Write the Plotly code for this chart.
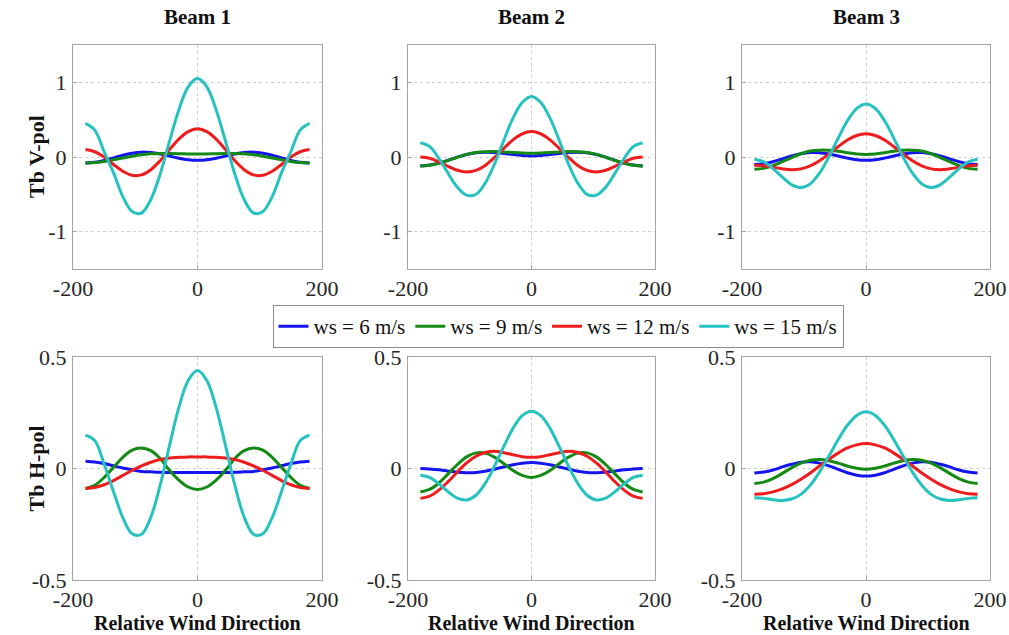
import plotly.graph_objects as go

wind_dir = [-180, -165, -150, -135, -120, -105, -90, -75, -60, -45, -30, -15, 0,
            15, 30, 45, 60, 75, 90, 105, 120, 135, 150, 165, 180]

series_names = ["ws = 6 m/s", "ws = 9 m/s", "ws = 12 m/s", "ws = 15 m/s"]
series_colors = ["#1414f0", "#138a13", "#ee1c1c", "#26c2c0"]
beam_titles = ["Beam 1", "Beam 2", "Beam 3"]
row_titles = ["Tb V-pol", "Tb H-pol"]
x_title = "Relative Wind Direction"

# ---- V-pol ----
b1v_ws6 = [-0.08, -0.071, -0.046, -0.012, 0.024, 0.051, 0.065, 0.06, 0.041, 0.012, -0.017, -0.038, -0.045, -0.038, -0.017, 0.012, 0.041, 0.06, 0.065, 0.051, 0.024, -0.012, -0.046, -0.071, -0.08]
b1v_ws9 = [-0.08, -0.075, -0.06, -0.037, -0.013, 0.011, 0.03, 0.042, 0.047, 0.047, 0.045, 0.041, 0.04, 0.041, 0.045, 0.047, 0.047, 0.042, 0.03, 0.011, -0.013, -0.037, -0.06, -0.075, -0.08]
b1v_ws12 = [0.10, 0.07, 0.00, -0.10, -0.19, -0.245, -0.24, -0.17, -0.05, 0.10, 0.24, 0.34, 0.38, 0.34, 0.24, 0.10, -0.05, -0.17, -0.24, -0.245, -0.19, -0.10, 0.00, 0.07, 0.10]
b1v_ws15 = [0.45, 0.36, 0.07, -0.21, -0.53, -0.73, -0.75, -0.57, -0.23, 0.21, 0.63, 0.94, 1.05, 0.94, 0.63, 0.21, -0.23, -0.57, -0.75, -0.73, -0.53, -0.21, 0.07, 0.36, 0.45]

b2v_ws6 = [-0.12, -0.108, -0.082, -0.044, -0.002, 0.034, 0.058, 0.064, 0.06, 0.048, 0.032, 0.02, 0.015, 0.02, 0.032, 0.048, 0.06, 0.064, 0.058, 0.034, -0.002, -0.044, -0.082, -0.108, -0.12]
b2v_ws9 = [-0.12, -0.11, -0.084, -0.045, -0.003, 0.035, 0.06, 0.07, 0.072, 0.068, 0.06, 0.053, 0.05, 0.053, 0.06, 0.068, 0.072, 0.07, 0.06, 0.035, -0.003, -0.045, -0.084, -0.11, -0.12]
b2v_ws12 = [0.0, -0.017, -0.065, -0.125, -0.178, -0.20, -0.18, -0.113, -0.008, 0.115, 0.23, 0.31, 0.34, 0.31, 0.23, 0.115, -0.008, -0.113, -0.18, -0.20, -0.178, -0.125, -0.065, -0.017, 0.0]
b2v_ws15 = [0.19, 0.14, -0.02, -0.22, -0.405, -0.51, -0.50, -0.35, -0.095, 0.22, 0.52, 0.73, 0.81, 0.73, 0.52, 0.22, -0.095, -0.35, -0.50, -0.51, -0.405, -0.22, -0.02, 0.14, 0.19]

b3v_ws6 = [-0.10, -0.09, -0.063, -0.025, 0.013, 0.044, 0.06, 0.058, 0.041, 0.013, -0.015, -0.037, -0.045, -0.037, -0.015, 0.013, 0.041, 0.058, 0.06, 0.044, 0.013, -0.025, -0.063, -0.09, -0.10]
b3v_ws9 = [-0.165, -0.152, -0.115, -0.063, -0.007, 0.044, 0.08, 0.092, 0.09, 0.078, 0.058, 0.041, 0.035, 0.041, 0.058, 0.078, 0.09, 0.092, 0.08, 0.044, -0.007, -0.063, -0.115, -0.152, -0.165]
b3v_ws12 = [-0.11, -0.118, -0.137, -0.158, -0.17, -0.159, -0.12, -0.051, 0.04, 0.138, 0.227, 0.288, 0.31, 0.288, 0.227, 0.138, 0.04, -0.051, -0.12, -0.159, -0.17, -0.158, -0.137, -0.118, -0.11]
b3v_ws15 = [-0.03, -0.064, -0.155, -0.27, -0.37, -0.41, -0.36, -0.217, 0.0, 0.25, 0.485, 0.65, 0.71, 0.65, 0.485, 0.25, 0.0, -0.217, -0.36, -0.41, -0.37, -0.27, -0.155, -0.064, -0.03]

# ---- H-pol ----
b1h_ws6 = [0.033, 0.029, 0.022, 0.012, 0.002, -0.006, -0.013, -0.015, -0.017, -0.018, -0.018, -0.018, -0.018, -0.018, -0.018, -0.018, -0.017, -0.015, -0.013, -0.006, 0.002, 0.012, 0.022, 0.029, 0.033]
b1h_ws9 = [-0.09, -0.075, -0.04, 0.005, 0.05, 0.082, 0.092, 0.08, 0.045, -0.008, -0.052, -0.083, -0.094, -0.083, -0.052, -0.008, 0.045, 0.08, 0.092, 0.082, 0.05, 0.005, -0.04, -0.075, -0.09]
b1h_ws12 = [-0.09, -0.085, -0.073, -0.054, -0.031, -0.008, 0.012, 0.028, 0.04, 0.047, 0.05, 0.052, 0.052, 0.052, 0.05, 0.047, 0.04, 0.028, 0.012, -0.008, -0.031, -0.054, -0.073, -0.085, -0.09]
b1h_ws15 = [0.15, 0.125, 0.02, -0.103, -0.22, -0.293, -0.295, -0.218, -0.075, 0.103, 0.273, 0.395, 0.44, 0.395, 0.273, 0.103, -0.075, -0.218, -0.295, -0.293, -0.22, -0.103, 0.02, 0.125, 0.15]

b2h_ws6 = [0.0, -0.002, -0.006, -0.012, -0.017, -0.019, -0.018, -0.012, -0.003, 0.007, 0.017, 0.024, 0.027, 0.024, 0.017, 0.007, -0.003, -0.012, -0.018, -0.019, -0.017, -0.012, -0.006, -0.002, 0.0]
b2h_ws9 = [-0.105, -0.094, -0.065, -0.024, 0.018, 0.052, 0.07, 0.069, 0.051, 0.022, -0.009, -0.031, -0.04, -0.031, -0.009, 0.022, 0.051, 0.069, 0.07, 0.052, 0.018, -0.024, -0.065, -0.094, -0.105]
b2h_ws12 = [-0.134, -0.124, -0.097, -0.059, -0.015, 0.025, 0.055, 0.072, 0.077, 0.071, 0.062, 0.053, 0.05, 0.053, 0.062, 0.071, 0.077, 0.072, 0.055, 0.025, -0.015, -0.059, -0.097, -0.124, -0.134]
b2h_ws15 = [-0.03, -0.04, -0.069, -0.104, -0.133, -0.141, -0.12, -0.067, 0.01, 0.098, 0.18, 0.237, 0.257, 0.237, 0.18, 0.098, 0.01, -0.067, -0.12, -0.141, -0.133, -0.104, -0.069, -0.04, -0.03]

b3h_ws6 = [-0.02, -0.016, -0.007, 0.007, 0.019, 0.028, 0.03, 0.024, 0.012, -0.004, -0.019, -0.03, -0.034, -0.03, -0.019, -0.004, 0.012, 0.024, 0.03, 0.028, 0.019, 0.007, -0.007, -0.016, -0.02]
b3h_ws9 = [-0.067, -0.061, -0.045, -0.022, 0.003, 0.024, 0.037, 0.04, 0.035, 0.024, 0.011, 0.001, -0.003, 0.001, 0.011, 0.024, 0.035, 0.04, 0.037, 0.024, 0.003, -0.022, -0.045, -0.061, -0.067]
b3h_ws12 = [-0.115, -0.113, -0.105, -0.091, -0.072, -0.048, -0.02, 0.011, 0.041, 0.069, 0.092, 0.106, 0.112, 0.106, 0.092, 0.069, 0.041, 0.011, -0.02, -0.048, -0.072, -0.091, -0.105, -0.113, -0.115]
b3h_ws15 = [-0.131, -0.134, -0.14, -0.143, -0.137, -0.116, -0.075, -0.016, 0.055, 0.129, 0.194, 0.238, 0.254, 0.238, 0.194, 0.129, 0.055, -0.016, -0.075, -0.116, -0.137, -0.143, -0.14, -0.134, -0.131]

panels = [
    [[b1v_ws6, b1v_ws9, b1v_ws12, b1v_ws15],
     [b2v_ws6, b2v_ws9, b2v_ws12, b2v_ws15],
     [b3v_ws6, b3v_ws9, b3v_ws12, b3v_ws15]],
    [[b1h_ws6, b1h_ws9, b1h_ws12, b1h_ws15],
     [b2h_ws6, b2h_ws9, b2h_ws12, b2h_ws15],
     [b3h_ws6, b3h_ws9, b3h_ws12, b3h_ws15]],
]

W, H = 1009, 635
col_px = [(73, 322), (408, 655), (742, 990)]
row_px = [(45, 269), (357, 580)]
y_ranges = [[-1.5, 1.5], [-0.5, 0.5]]
y_ticks = [[-1, 0, 1], [-0.5, 0, 0.5]]
y_ticktext = [["-1", "0", "1"], ["-0.5", "0", "0.5"]]

FONT = "Liberation Serif, Times New Roman, serif"
fig = go.Figure()
layout = {}
ann = []
idx = 0
for r in range(2):
    for c in range(3):
        idx += 1
        xa = "x" if idx == 1 else f"x{idx}"
        ya = "y" if idx == 1 else f"y{idx}"
        for s in range(4):
            fig.add_trace(go.Scatter(
                x=wind_dir, y=panels[r][c][s], mode="lines",
                line=dict(color=series_colors[s], width=3, shape="spline", smoothing=1.0),
                name=series_names[s], showlegend=(idx == 1),
                xaxis=xa, yaxis=ya))
        x0, x1 = col_px[c]
        y0, y1 = row_px[r]
        axcommon = dict(showline=True, mirror=True, linecolor="#a6a6a6", linewidth=1,
                        showgrid=True, gridcolor="#d0d0d0", griddash="dot", gridwidth=1,
                        zeroline=False, ticks="inside", ticklen=4, tickcolor="#a6a6a6",
                        automargin=False,
                        tickfont=dict(family=FONT, size=22, color="#262626"))
        layout["xaxis" if idx == 1 else f"xaxis{idx}"] = dict(
            domain=[x0 / W, x1 / W], range=[-200, 200], tickvals=[-200, 0, 200],
            ticktext=["-200", "0", "200"], anchor=ya, ticklabelstandoff=0, **axcommon)
        layout["yaxis" if idx == 1 else f"yaxis{idx}"] = dict(
            domain=[1 - y1 / H, 1 - y0 / H], range=y_ranges[r], tickvals=y_ticks[r],
            ticktext=y_ticktext[r], anchor=xa, ticklabelstandoff=1, **axcommon)

for c in range(3):
    cx = (col_px[c][0] + col_px[c][1]) / 2 / W
    ann.append(dict(text=f"<b>{beam_titles[c]}</b>", x=cx, y=1 - 17 / H, xref="paper", yref="paper",
                    showarrow=False, xanchor="center", yanchor="middle",
                    font=dict(family=FONT, size=21, color="#111111")))
    ann.append(dict(text=f"<b>{x_title}</b>", x=cx, y=0, xref="paper", yref="paper",
                    showarrow=False, xanchor="center", yanchor="bottom", yshift=-1,
                    font=dict(family=FONT, size=20, color="#111111")))
for r in range(2):
    cy = 1 - (row_px[r][0] + row_px[r][1]) / 2 / H
    ann.append(dict(text=f"<b>{row_titles[r]}</b>", x=36 / W, y=cy, xref="paper", yref="paper",
                    showarrow=False, xanchor="center", yanchor="middle", textangle=-90,
                    font=dict(family=FONT, size=22, color="#111111")))

fig.update_layout(
    width=W, height=H, margin=dict(l=0, r=0, t=0, b=0),
    paper_bgcolor="white", plot_bgcolor="white",
    annotations=ann,
    legend=dict(orientation="h", x=558 / W, xanchor="center", y=1 - 305 / H, yanchor="top",
                bordercolor="#8c8c8c", borderwidth=1, bgcolor="white",
                font=dict(family=FONT, size=21, color="#111111"),
                itemwidth=30, tracegroupgap=0),
    **layout)

fig.write_html("out.html", config={"displayModeBar": False},
               post_script="document.body.style.margin='0px';document.body.style.overflow='hidden';")
